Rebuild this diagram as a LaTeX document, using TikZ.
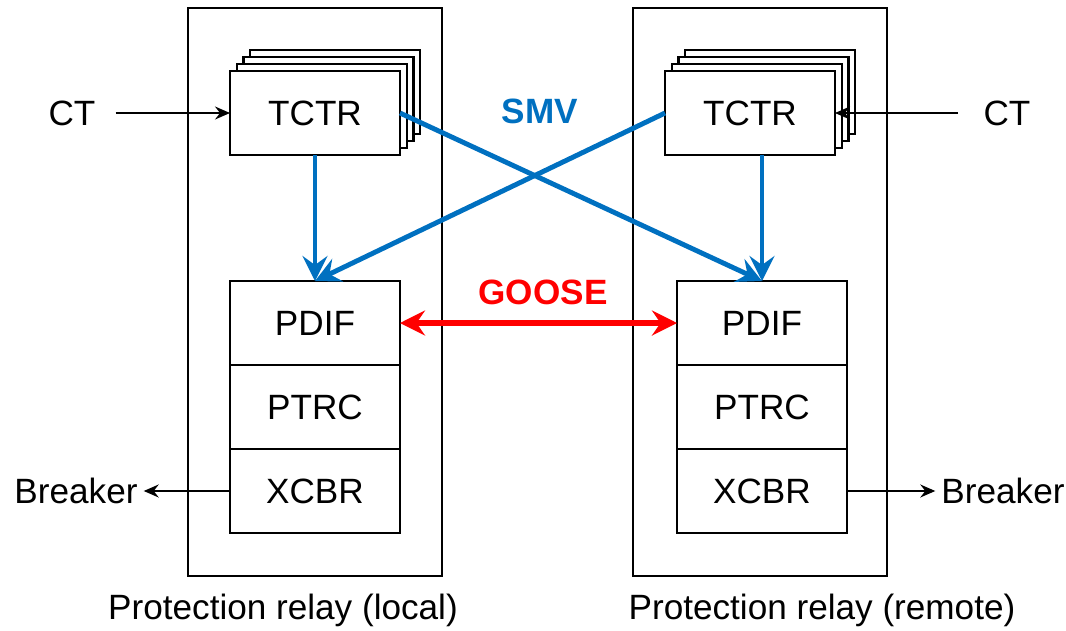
\documentclass[tikz,border=0pt]{standalone}
\usepackage{fontspec}
\setmainfont{Liberation Sans}
\usepackage{xcolor}
\usetikzlibrary{arrows.meta,positioning}

\definecolor{smvblue}{RGB}{0,112,192}
\definecolor{goosered}{RGB}{255,0,0}

\begin{document}
\begin{tikzpicture}[
    x=0.02cm, y=-0.02cm,
    font=\fontsize{20}{24}\selectfont,
    relay/.style={draw, line width=1pt, outer sep=0pt, inner sep=0pt,
                  minimum width=5.08cm, minimum height=11.36cm},
    ln/.style={draw, fill=white, line width=1.3pt, outer sep=0pt, inner sep=0pt,
               minimum width=3.4cm, minimum height=1.68cm},
    sig/.style={-{Stealth[length=3mm, width=2.6mm, inset=1mm]}, line width=0.9pt},
    smv/.style={-{Stealth[length=5mm, width=5mm, inset=1.8mm]}, smvblue, line width=2.8pt},
    goose/.style={{Stealth[length=5mm, width=5mm, inset=1.7mm]}-{Stealth[length=5mm, width=5mm, inset=1.7mm]},
                  goosered, line width=3pt}
]
\useasboundingbox (0,0) rectangle (1066,630);

% relays
\node[relay] (locrelay) at (315,292) {};
\node[relay] (remrelay) at (760,292) {};

% sampled value inputs (stacked)
\foreach \i in {3,2,1}
  \node[ln] (loctc\i) at ({315+6.7*\i},{113-7*\i}) {};
\node[ln] (loctc) at (315,113) {TCTR};
\foreach \i in {3,2,1}
  \node[ln] (remtc\i) at ({750+6.7*\i},{113-7*\i}) {};
\node[ln] (remtc) at (750,113) {TCTR};

% protection chain
\node[ln] (locpdif) at (315,323) {PDIF};
\node[ln, below=0pt of locpdif] (locptrc) {PTRC};
\node[ln, below=0pt of locptrc] (locxcbr) {XCBR};

\node[ln] (rempdif) at (762,323) {PDIF};
\node[ln, below=0pt of rempdif] (remptrc) {PTRC};
\node[ln, below=0pt of remptrc] (remxcbr) {XCBR};

% outside labels
\node (locct) at (72,113) {CT};
\node (remct) at (1007,113) {CT};
\node (locbrk) at (76,491) {Breaker};
\node (rembrk) at (1003,491) {Breaker};
\node (loccap) at (283,610) {Protection relay (local)};
\node (remcap) at (822,610) {Protection relay (remote)};

\node[text=smvblue, font=\fontsize{20}{24}\selectfont\bfseries] (smvlbl) at (540,111) {SMV};
\node[text=goosered, font=\fontsize{20}{24}\selectfont\bfseries] (gooselbl) at (543,292) {GOOSE};

% black signals
\draw[sig, shorten <=8pt] (locct) -- (loctc);
\draw[sig, shorten <=11pt] (remct) -- (remtc);
\draw[sig] (locxcbr) -- (locbrk);
\draw[sig] (remxcbr) -- (rembrk);

% SMV
\draw[smv] (loctc.south) -- (locpdif.north);
\draw[smv] (remtc.south -| rempdif.north) -- (rempdif.north);
\draw[smv] (loctc.east) -- (rempdif.north);
\draw[smv] (remtc.west) -- (locpdif.north);

% GOOSE
\draw[goose] (locpdif) -- (rempdif);

\end{tikzpicture}
\end{document}
